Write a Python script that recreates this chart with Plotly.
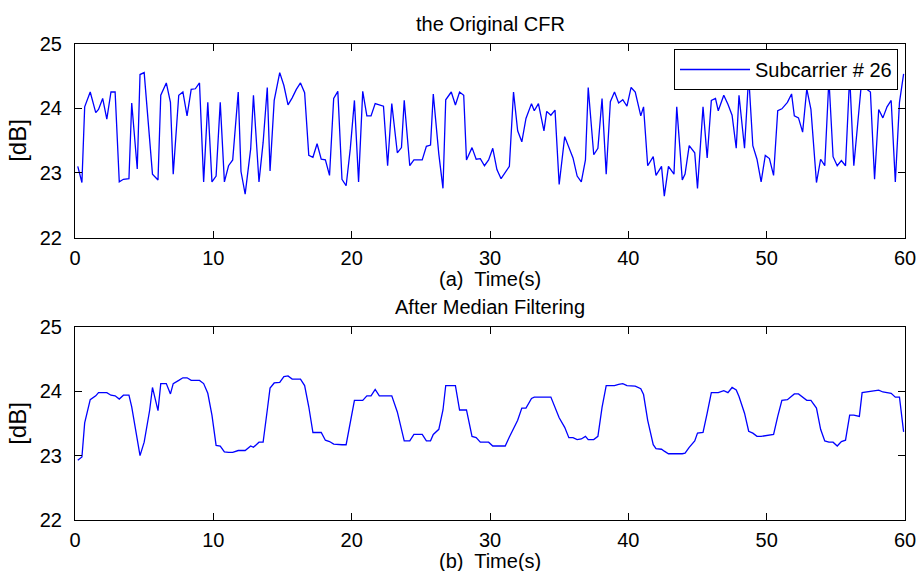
import plotly.graph_objects as go

# --- data (time in s, level in dB) ---
t_raw = [0.2, 0.5, 0.7, 1.1, 1.5, 1.7, 2.0, 2.3, 2.6, 2.9, 3.2, 3.5, 3.9, 4.1, 4.5, 4.7, 5.0, 5.4, 5.6, 6.0,
         6.2, 6.6, 6.9, 7.1, 7.5, 7.8, 8.1, 8.4, 8.7, 9.0, 9.3, 9.6, 9.9, 10.2, 10.5, 10.8, 11.1, 11.4, 11.8, 12.0,
         12.3, 12.7, 12.9, 13.3, 13.6, 13.9, 14.1, 14.4, 14.8, 15.1, 15.4, 15.7, 16.0, 16.3, 16.6, 16.9, 17.2, 17.5, 17.8, 18.1,
         18.4, 18.7, 19.0, 19.3, 19.6, 19.9, 20.2, 20.5, 20.8, 21.1, 21.4, 21.7, 22.0, 22.3, 22.6, 22.9, 23.3, 23.6, 23.8, 24.2,
         24.5, 24.8, 25.1, 25.4, 25.7, 25.9, 26.3, 26.6, 26.8, 27.2, 27.5, 27.8, 28.1, 28.3, 28.7, 29.0, 29.3, 29.6, 29.9, 30.2,
         30.5, 30.8, 31.1, 31.4, 31.7, 32.0, 32.3, 32.6, 33.0, 33.2, 33.5, 33.9, 34.1, 34.4, 34.7, 35.0, 35.4, 35.7, 36.0, 36.3,
         36.6, 36.9, 37.1, 37.5, 37.8, 38.1, 38.4, 38.7, 39.0, 39.3, 39.6, 39.9, 40.2, 40.5, 40.9, 41.1, 41.4, 41.8, 42.0, 42.4,
         42.6, 42.9, 43.3, 43.5, 43.9, 44.1, 44.4, 44.8, 45.0, 45.4, 45.7, 46.0, 46.3, 46.5, 46.9, 47.2, 47.5, 47.8, 48.0, 48.4,
         48.7, 49.0, 49.3, 49.6, 49.9, 50.2, 50.5, 50.8, 51.1, 51.5, 51.8, 52.0, 52.3, 52.6, 52.9, 53.2, 53.6, 53.9, 54.2, 54.5,
         54.8, 55.1, 55.4, 55.7, 56.0, 56.3, 56.7, 56.9, 57.2, 57.5, 57.8, 58.1, 58.4, 58.7, 59.0, 59.3, 59.6, 59.9]
cfr_raw = [23.10, 22.85, 24.02, 24.25, 23.93, 23.98, 24.15, 23.83, 24.25, 24.25, 22.86, 22.90, 22.91, 24.08, 23.06, 24.52, 24.55, 23.42, 22.98, 22.89,
           24.20, 24.39, 24.09, 22.98, 24.20, 24.25, 23.88, 24.29, 24.30, 24.39, 22.86, 24.09, 22.86, 22.95, 24.09, 22.86, 23.11, 23.20, 24.25, 23.02,
           22.67, 23.37, 24.20, 22.86, 23.47, 24.32, 23.03, 24.12, 24.55, 24.35, 24.05, 24.16, 24.29, 24.39, 24.24, 23.27, 23.24, 23.45, 23.21, 23.20,
           22.96, 24.15, 24.26, 22.90, 22.80, 23.37, 24.12, 22.86, 24.26, 23.88, 23.88, 24.07, 24.05, 24.03, 23.11, 24.07, 23.31, 23.39, 24.12, 23.11,
           23.20, 23.20, 23.20, 23.41, 23.43, 24.22, 23.29, 22.76, 24.13, 24.25, 24.05, 24.25, 24.20, 23.20, 23.39, 23.21, 23.22, 23.11, 23.20, 23.38,
           23.05, 22.91, 23.00, 23.10, 24.25, 23.65, 23.48, 23.84, 24.07, 23.96, 24.07, 23.65, 23.95, 23.89, 23.97, 22.82, 23.56, 23.39, 23.23, 22.95,
           22.86, 23.20, 24.32, 23.28, 23.38, 24.15, 22.98, 24.10, 24.25, 24.08, 24.13, 24.03, 24.32, 24.25, 23.88, 24.02, 23.11, 23.25, 22.96, 23.10,
           22.64, 23.10, 22.98, 24.02, 22.89, 22.98, 23.42, 23.31, 22.76, 24.02, 23.23, 24.12, 24.15, 23.96, 24.20, 24.06, 23.89, 23.38, 24.20, 23.38,
           24.50, 23.42, 23.21, 22.86, 23.27, 23.22, 22.96, 23.96, 23.99, 24.09, 24.22, 23.88, 23.85, 23.63, 24.30, 23.98, 22.85, 23.21, 23.11, 24.45,
           23.25, 23.11, 23.19, 23.11, 24.50, 23.11, 24.02, 24.50, 24.30, 24.25, 22.90, 23.98, 23.85, 24.02, 24.12, 22.86, 24.09, 24.53]

t_med = [0.2, 0.5, 0.7, 1.1, 1.5, 1.7, 2.3, 2.6, 2.9, 3.2, 3.5, 3.9, 4.1, 4.5, 4.7, 5.0, 5.4, 5.6, 6.0, 6.2,
         6.6, 6.9, 7.1, 7.5, 7.8, 8.1, 8.4, 8.7, 9.0, 9.3, 9.6, 9.9, 10.2, 10.5, 10.8, 11.1, 11.4, 11.8, 12.0, 12.3,
         12.7, 12.9, 13.3, 13.6, 13.9, 14.1, 14.4, 14.8, 15.1, 15.4, 15.7, 16.0, 16.3, 16.6, 16.9, 17.2, 17.5, 17.8, 18.1, 18.4,
         18.7, 19.0, 19.3, 19.6, 19.9, 20.2, 20.8, 21.1, 21.4, 21.7, 22.0, 22.9, 23.3, 23.6, 23.8, 24.2, 24.5, 25.1, 25.4, 25.7,
         25.9, 26.3, 26.6, 26.8, 27.5, 27.8, 28.3, 28.7, 29.0, 29.3, 29.9, 30.2, 31.1, 31.4, 32.0, 32.3, 32.6, 33.0, 33.2, 34.4,
         34.7, 35.0, 35.4, 35.7, 36.0, 36.3, 36.6, 36.9, 37.1, 37.5, 37.8, 38.1, 38.4, 39.0, 39.3, 39.6, 39.9, 40.2, 40.5, 40.9,
         41.1, 41.4, 41.8, 42.0, 42.4, 42.6, 42.9, 43.9, 44.1, 44.4, 44.8, 45.0, 45.4, 45.7, 46.0, 46.5, 46.9, 47.2, 47.5, 47.8,
         48.0, 48.4, 48.7, 49.0, 49.3, 49.6, 49.9, 50.2, 50.5, 50.8, 51.1, 51.5, 51.8, 52.0, 52.3, 52.6, 52.9, 53.2, 53.6, 53.9,
         54.2, 54.5, 54.8, 55.1, 55.4, 55.7, 56.0, 56.3, 56.7, 56.9, 57.2, 57.5, 57.8, 58.1, 58.4, 58.7, 59.0, 59.3, 59.6, 59.9]
cfr_med = [22.93, 22.98, 23.51, 23.87, 23.93, 23.98, 23.98, 23.94, 23.93, 23.88, 23.94, 23.94, 23.76, 23.24, 23.00, 23.21, 23.71, 24.06, 23.70, 24.12,
           24.12, 23.96, 24.12, 24.17, 24.21, 24.21, 24.17, 24.17, 24.17, 24.12, 23.97, 23.63, 23.16, 23.15, 23.06, 23.05, 23.05, 23.08, 23.08, 23.08,
           23.15, 23.13, 23.21, 23.21, 23.71, 24.05, 24.13, 24.14, 24.23, 24.24, 24.19, 24.19, 24.19, 24.09, 23.76, 23.36, 23.36, 23.36, 23.24, 23.22,
           23.18, 23.17, 23.17, 23.17, 23.52, 23.86, 23.86, 23.93, 23.93, 24.03, 23.93, 23.93, 23.68, 23.39, 23.23, 23.23, 23.33, 23.33, 23.23, 23.23,
           23.33, 23.41, 23.71, 24.09, 24.09, 23.71, 23.71, 23.30, 23.28, 23.21, 23.21, 23.15, 23.15, 23.29, 23.55, 23.74, 23.74, 23.89, 23.91, 23.91,
           23.75, 23.59, 23.44, 23.28, 23.28, 23.25, 23.26, 23.30, 23.25, 23.25, 23.30, 23.75, 24.09, 24.09, 24.11, 24.12, 24.09, 24.09, 24.08, 24.04,
           23.95, 23.55, 23.17, 23.11, 23.10, 23.07, 23.03, 23.03, 23.04, 23.13, 23.23, 23.35, 23.36, 23.66, 23.98, 23.98, 24.01, 23.98, 24.06, 24.02,
           23.92, 23.66, 23.38, 23.35, 23.30, 23.30, 23.31, 23.33, 23.33, 23.61, 23.86, 23.87, 23.92, 23.96, 23.96, 23.91, 23.86, 23.86, 23.74, 23.41,
           23.23, 23.21, 23.21, 23.15, 23.22, 23.24, 23.63, 23.63, 23.61, 23.98, 23.99, 24.00, 24.02, 24.02, 23.99, 23.98, 23.97, 23.91, 23.91, 23.37]

x_ticks = [0, 10, 20, 30, 40, 50, 60]
y_ticks = [22, 23, 24, 25]

FONT = "Liberation Sans, Arial, Helvetica, sans-serif"
FS = 20
W, H = 920, 571

# plot boxes in pixels (left, right, top, bottom)
X0, X1 = 75, 905
TOP = (43.5, 237.5)
BOT = (327, 520)

fig = go.Figure()
fig.add_trace(go.Scatter(x=t_raw, y=cfr_raw, mode="lines", name="Subcarrier # 26",
                         line=dict(color="#0000ff", width=1.3), xaxis="x", yaxis="y"))
fig.add_trace(go.Scatter(x=t_med, y=cfr_med, mode="lines", showlegend=False,
                         line=dict(color="#0000ff", width=1.3), xaxis="x2", yaxis="y2"))

axis_common = dict(showline=True, linecolor="black", linewidth=1, mirror="allticks",
                   ticks="inside", ticklen=7, tickcolor="black", showgrid=False, zeroline=False,
                   automargin=False,
                   tickfont=dict(family=FONT, size=FS, color="black"))

def ydom(box):
    return [1 - box[1] / H, 1 - box[0] / H]

fig.update_layout(
    width=W, height=H,
    margin=dict(l=0, r=0, t=0, b=0),
    paper_bgcolor="white", plot_bgcolor="white",
    font=dict(family=FONT, size=FS, color="black"),
    xaxis=dict(axis_common, domain=[X0 / W, X1 / W], range=[0, 60], tickvals=x_ticks, anchor="y",
               ticklabelstandoff=2),
    yaxis=dict(axis_common, domain=ydom(TOP), range=[22, 25], tickvals=y_ticks, anchor="x",
               ticklabelstandoff=8, title=dict(text="[dB]", standoff=6)),
    xaxis2=dict(axis_common, domain=[X0 / W, X1 / W], range=[0, 60], tickvals=x_ticks, anchor="y2",
                ticklabelstandoff=2),
    yaxis2=dict(axis_common, domain=ydom(BOT), range=[22, 25], tickvals=y_ticks, anchor="x2",
                ticklabelstandoff=8, title=dict(text="[dB]", standoff=6)),
    legend=dict(x=898 / W, xanchor="right", y=1 - 49 / H, yanchor="top",
                bgcolor="white", bordercolor="black", borderwidth=1,
                font=dict(family=FONT, size=FS, color="black"), itemwidth=70),
    showlegend=True,
)

# subplot titles and x-axis labels, MATLAB style
for xr, yr, title, xlab in [("x domain", "y domain", "the Original CFR", "(a)  Time(s)"),
                            ("x2 domain", "y2 domain", "After Median Filtering", "(b)  Time(s)")]:
    fig.add_annotation(text=title, xref=xr, yref=yr, x=0.5, y=1, yanchor="bottom",
                       showarrow=False, yshift=7, font=dict(family=FONT, size=FS))
    fig.add_annotation(text=xlab, xref=xr, yref=yr, x=0.5, y=0, yanchor="top",
                       showarrow=False, yshift=-28, font=dict(family=FONT, size=FS))

# drop the browser's default body margin so the figure sits at the page corner
fig.write_html("out.html", config={"displayModeBar": False},
               post_script="document.body.style.margin='0';")
